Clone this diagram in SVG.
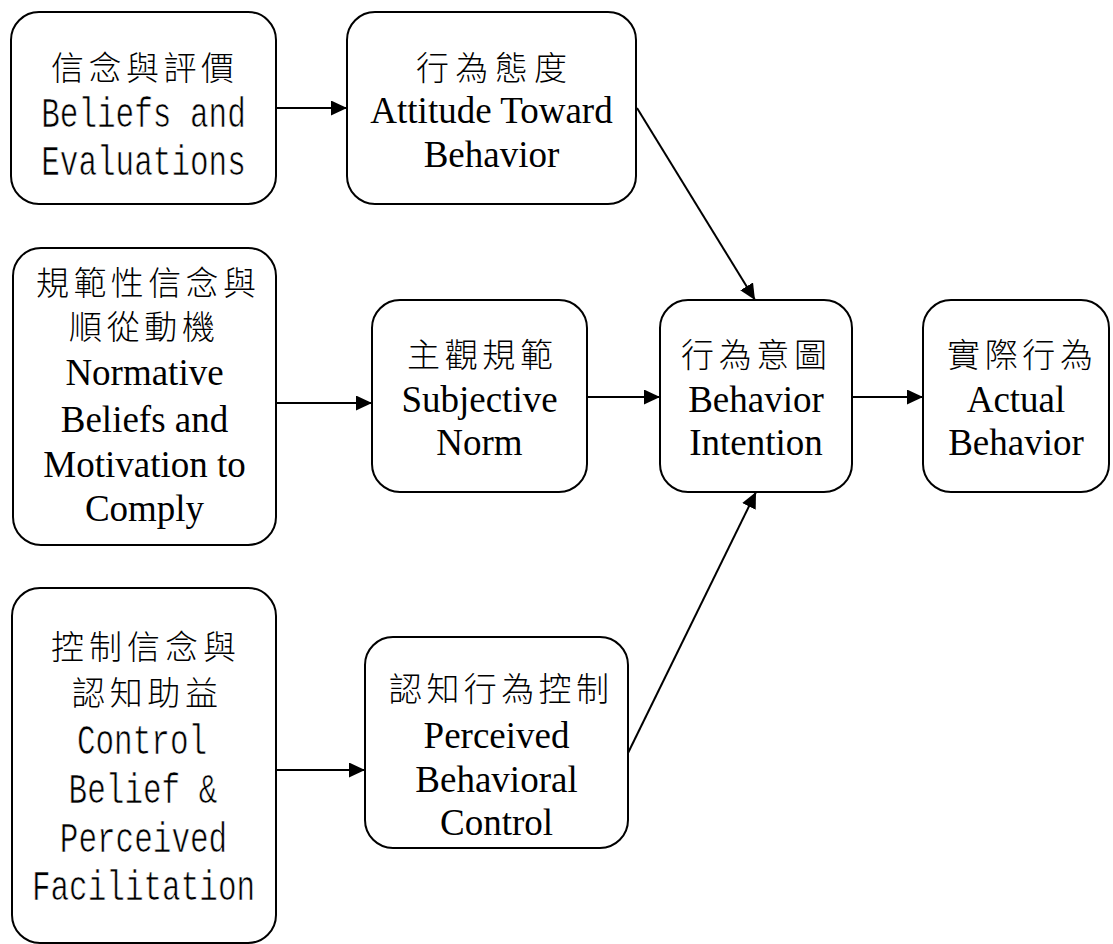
<svg xmlns="http://www.w3.org/2000/svg" width="1113" height="944" viewBox="0 0 1113 944">
<style>
.box{fill:#fff;stroke:#000;stroke-width:2}
.cjk{font-family:"Noto Sans CJK TC","Noto Sans CJK SC",sans-serif;font-size:33px;font-weight:300;fill:#000}
.mono{font-family:"Liberation Mono",monospace;font-size:31px;fill:#000;stroke:#fff;stroke-width:0.5px;text-anchor:middle}
.ser{font-family:"Liberation Serif",serif;font-size:37px;fill:#000;text-anchor:middle}
.edge{stroke:#000;stroke-width:2;fill:none;marker-end:url(#ah)}
</style>
<defs>
<marker id="ah" markerUnits="userSpaceOnUse" markerWidth="17" markerHeight="16" refX="16" refY="7.5" orient="auto">
<path d="M0,0 L16,7.5 L0,15 z" fill="#000"/>
</marker>
</defs>
<rect width="1113" height="944" fill="#fff"/>
<g id="connectors">
<line class="edge" x1="276" y1="108" x2="347" y2="108"/>
<line class="edge" x1="276" y1="403" x2="372" y2="403"/>
<line class="edge" x1="276" y1="770" x2="365" y2="770"/>
<line class="edge" x1="587" y1="397" x2="660" y2="397"/>
<line class="edge" x1="852" y1="397" x2="923" y2="397"/>
<line class="edge" x1="637" y1="108" x2="755" y2="300"/>
<line class="edge" x1="628" y1="753" x2="756" y2="492"/>
</g>
<g id="n-beliefs">
<rect class="box" x="11" y="12" width="265" height="192" rx="28"/>
<text class="cjk" x="51" y="80" textLength="183" lengthAdjust="spacing">信念與評價</text>
<text class="mono" transform="translate(143.5,127) scale(1,1.38)">Beliefs and</text>
<text class="mono" transform="translate(143.5,175) scale(1,1.38)">Evaluations</text>
</g>
<g id="n-attitude">
<rect class="box" x="347" y="12" width="289" height="192" rx="28"/>
<text class="cjk" x="416" y="80" textLength="151" lengthAdjust="spacing">行為態度</text>
<text class="ser" x="491.5" y="123">Attitude Toward</text>
<text class="ser" x="491.5" y="167">Behavior</text>
</g>
<g id="n-normative">
<rect class="box" x="13" y="248" width="263" height="297" rx="28"/>
<text class="cjk" x="36" y="295" textLength="220" lengthAdjust="spacing">規範性信念與</text>
<text class="cjk" x="69" y="339" textLength="146" lengthAdjust="spacing">順從動機</text>
<text class="ser" x="144.5" y="385">Normative</text>
<text class="ser" x="144.5" y="432">Beliefs and</text>
<text class="ser" x="144.5" y="477">Motivation to</text>
<text class="ser" x="144.5" y="521">Comply</text>
</g>
<g id="n-subjective">
<rect class="box" x="372" y="300" width="215" height="192" rx="28"/>
<text class="cjk" x="407" y="367" textLength="146" lengthAdjust="spacing">主觀規範</text>
<text class="ser" x="479.5" y="412">Subjective</text>
<text class="ser" x="479.5" y="455">Norm</text>
</g>
<g id="n-intention">
<rect class="box" x="660" y="300" width="192" height="192" rx="28"/>
<text class="cjk" x="681" y="367" textLength="146" lengthAdjust="spacing">行為意圖</text>
<text class="ser" x="756" y="412">Behavior</text>
<text class="ser" x="756" y="455">Intention</text>
</g>
<g id="n-actual">
<rect class="box" x="923" y="300" width="186" height="192" rx="28"/>
<text class="cjk" x="947" y="367" textLength="146" lengthAdjust="spacing">實際行為</text>
<text class="ser" x="1016" y="412">Actual</text>
<text class="ser" x="1016" y="455">Behavior</text>
</g>
<g id="n-control">
<rect class="box" x="12" y="588" width="264" height="355" rx="28"/>
<text class="cjk" x="51" y="659" textLength="185" lengthAdjust="spacing">控制信念與</text>
<text class="cjk" x="72" y="705" textLength="146" lengthAdjust="spacing">認知助益</text>
<text class="mono" transform="translate(142,754) scale(1,1.38)">Control</text>
<text class="mono" transform="translate(143,803) scale(1,1.38)">Belief &amp;</text>
<text class="mono" transform="translate(143.5,852) scale(1,1.38)">Perceived</text>
<text class="mono" transform="translate(143.5,900) scale(1,1.38)">Facilitation</text>
</g>
<g id="n-pbc">
<rect class="box" x="365" y="637" width="263" height="211" rx="28"/>
<text class="cjk" x="389" y="701" textLength="220" lengthAdjust="spacing">認知行為控制</text>
<text class="ser" x="496.5" y="748">Perceived</text>
<text class="ser" x="496.5" y="792">Behavioral</text>
<text class="ser" x="496.5" y="835">Control</text>
</g>
</svg>
